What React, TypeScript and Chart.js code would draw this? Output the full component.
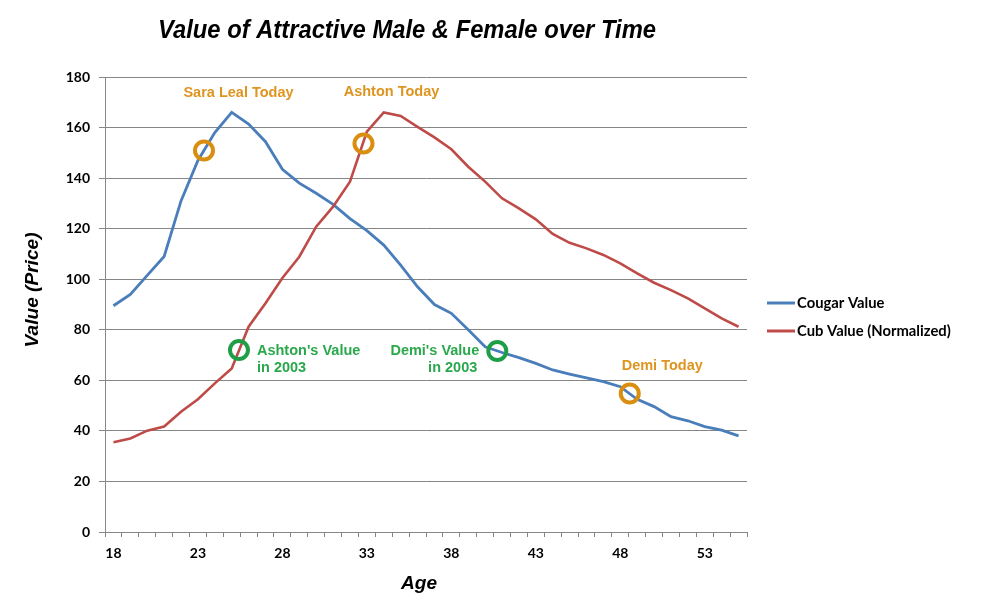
import React, { useEffect, useRef } from "react";
import { Chart, registerables } from "chart.js";

Chart.register(...registerables);

// ---------- data ----------
const ages: number[] = [
  18, 19, 20, 21, 22, 23, 24, 25, 26, 27, 28, 29, 30, 31, 32, 33, 34, 35, 36,
  37, 38, 39, 40, 41, 42, 43, 44, 45, 46, 47, 48, 49, 50, 51, 52, 53, 54, 55,
];
const labeledAges: number[] = [18, 23, 28, 33, 38, 43, 48, 53];

const cougarValue: number[] = [
  89.5, 94, 101.5, 109, 131, 147, 158, 166, 161.4, 154.4, 143.5, 138, 134,
  129.6, 124, 119.2, 113.5, 105.6, 97, 90, 86.5, 80, 73.3, 71, 69, 66.7, 64.1,
  62.5, 61, 59.5, 57.5, 52.5, 49.6, 45.6, 44, 41.7, 40.3, 38,
];
const cubValue: number[] = [
  35.5, 37, 40.1, 41.7, 47.6, 52.5, 58.8, 64.7, 81.2, 90.5, 100.5, 108.9, 120.8,
  128.7, 138.6, 158.4, 166, 164.6, 160.3, 156.1, 151.4, 144.5, 138.6, 132, 128,
  123.7, 117.9, 114.4, 112.2, 109.6, 106.3, 102.3, 98.6, 95.7, 92.4, 88.5, 84.5,
  81.2,
];
const seriesNames: string[] = ["Cougar Value", "Cub Value (Normalized)"];

const yTicks = { min: 0, max: 180, step: 20 };

// annotations (age, value, text lines)
const noteAges: number[] = [23.36, 32.8, 25.43, 40.72, 48.56];
const noteValues: number[] = [150.9, 153.7, 72, 71.6, 54.8];
const noteTexts: string[][] = [
  ["Sara Leal Today"],
  ["Ashton Today"],
  ["Ashton's Value", "in 2003"],
  ["Demi's Value", "in 2003"],
  ["Demi Today"],
];

const titleText = "Value of Attractive Male & Female over Time";
const xTitle = "Age";
const yTitle = "Value (Price)";

// ---------- styles ----------
const BLUE = "#4A7EBB";
const RED = "#BE4B48";
const ORANGE = "#D98E10";
const ORANGE_TEXT = "#DE9520";
const GREEN = "#1E9E45";
const GREEN_TEXT = "#2AA84C";
const GRID = "#868686";
const TICK_FONT = { family: "Lato, 'Open Sans', sans-serif", weight: "bold", size: 14 };

const noteStyles = [
  { ring: ORANGE, text: ORANGE_TEXT, align: "center", offs: [[34.5, -57.5]] },
  { ring: ORANGE, text: ORANGE_TEXT, align: "center", offs: [[28, -51.5]] },
  { ring: GREEN, text: GREEN_TEXT, align: "left", offs: [[18, 1], [18, 18]] },
  { ring: GREEN, text: GREEN_TEXT, align: "right", offs: [[-18, 0], [-20, 17]] },
  { ring: ORANGE, text: ORANGE_TEXT, align: "center", offs: [[32.5, -27.5]] },
];

function fitText(
  ctx: CanvasRenderingContext2D,
  text: string,
  font: string,
  targetW: number,
  cx: number,
  cy: number,
  rotate: number
) {
  ctx.save();
  ctx.font = font;
  const w = ctx.measureText(text).width;
  const s = targetW / w;
  ctx.translate(cx, cy);
  ctx.rotate(rotate);
  ctx.scale(s, 1);
  ctx.textAlign = "center";
  ctx.textBaseline = "middle";
  ctx.fillStyle = "#000";
  ctx.fillText(text, 0, 0);
  ctx.restore();
}

const overlayPlugin = {
  id: "overlay",
  afterDatasetsDraw(chart: any) {
    const { ctx, scales } = chart;
    const x = scales.x;
    const y = scales.y;
    ctx.save();
    noteAges.forEach((age, i) => {
      const px = x.getPixelForValue(age - ages[0]);
      const py = y.getPixelForValue(noteValues[i]);
      const st = noteStyles[i];
      ctx.beginPath();
      ctx.arc(px, py, 9, 0, Math.PI * 2);
      ctx.lineWidth = 4;
      ctx.strokeStyle = st.ring;
      ctx.stroke();
      ctx.font = "bold 14.5px 'Liberation Sans', Arial, sans-serif";
      ctx.fillStyle = st.text;
      ctx.textAlign = st.align as CanvasTextAlign;
      ctx.textBaseline = "middle";
      noteTexts[i].forEach((t, j) => {
        const o = st.offs[j];
        ctx.fillText(t, px + o[0], py + o[1]);
      });
    });
    ctx.restore();
  },
  afterDraw(chart: any) {
    const { ctx } = chart;
    // title
    fitText(ctx, titleText, "italic bold 26px 'Liberation Sans Narrow', 'Liberation Sans', Arial, sans-serif", 498, 407, 31, 0);
    // axis titles
    fitText(ctx, yTitle, "italic bold 19px 'Liberation Sans', Arial, sans-serif", 115, 33, 290, -Math.PI / 2);
    fitText(ctx, xTitle, "italic bold 19px 'Liberation Sans', Arial, sans-serif", 36, 419, 584, 0);
    // legend
    ctx.save();
    const colors = [BLUE, RED];
    const legendY = [303, 331];
    ctx.font = "bold 14.8px Lato, 'Open Sans', sans-serif";
    ctx.textAlign = "left";
    ctx.textBaseline = "middle";
    seriesNames.forEach((name, i) => {
      ctx.beginPath();
      ctx.moveTo(767, legendY[i]);
      ctx.lineTo(795, legendY[i]);
      ctx.lineWidth = 3;
      ctx.strokeStyle = colors[i];
      ctx.stroke();
      ctx.fillStyle = "#000";
      ctx.fillText(name, 797, legendY[i]);
    });
    ctx.restore();
  },
};

export default function App() {
  const ref = useRef<HTMLCanvasElement | null>(null);
  useEffect(() => {
    if (!ref.current) return;
    const chart = new Chart(ref.current, {
      type: "line",
      data: {
        labels: ages.map(String),
        datasets: [
          {
            label: seriesNames[0],
            data: cougarValue,
            borderColor: BLUE,
            backgroundColor: BLUE,
            borderWidth: 2.8,
            pointRadius: 0,
            tension: 0,
            order: 1,
          },
          {
            label: seriesNames[1],
            data: cubValue,
            borderColor: RED,
            backgroundColor: RED,
            borderWidth: 2.6,
            pointRadius: 0,
            tension: 0,
            order: 0,
          },
        ],
      },
      options: {
        responsive: false,
        animation: false,
        layout: { padding: { top: 77, left: 0, right: 236, bottom: 0 } },
        plugins: {
          legend: { display: false },
          title: { display: false },
          tooltip: { enabled: false },
        },
        scales: {
          x: {
            type: "category",
            offset: true,
            grid: {
              offset: true,
              drawOnChartArea: false,
              drawTicks: true,
              tickLength: 5,
              color: GRID,
            },
            border: { display: true, color: GRID, width: 1 },
            ticks: {
              autoSkip: false,
              maxRotation: 0,
              minRotation: 0,
              padding: 8,
              color: "#000",
              font: TICK_FONT,
              callback: (_v: any, i: number) =>
                labeledAges.includes(ages[i]) ? String(ages[i]) : "",
            },
            afterFit: (s: any) => {
              s.height = 81;
            },
          },
          y: {
            min: yTicks.min,
            max: yTicks.max,
            ticks: {
              stepSize: yTicks.step,
              padding: 9,
              color: "#000",
              font: TICK_FONT,
            },
            grid: { color: GRID, lineWidth: 1, drawTicks: true, tickLength: 6 },
            border: { display: true, color: GRID, width: 1 },
            afterFit: (s: any) => {
              s.width = 105;
            },
          },
        },
      },
      plugins: [overlayPlugin],
    } as any);
    return () => chart.destroy();
  }, []);
  return (
    <div style={{ position: "fixed", left: 0, top: 0, width: 983, height: 613, background: "#fff" }}>
      <canvas ref={ref} width={983} height={613} style={{ display: "block" }} />
    </div>
  );
}
